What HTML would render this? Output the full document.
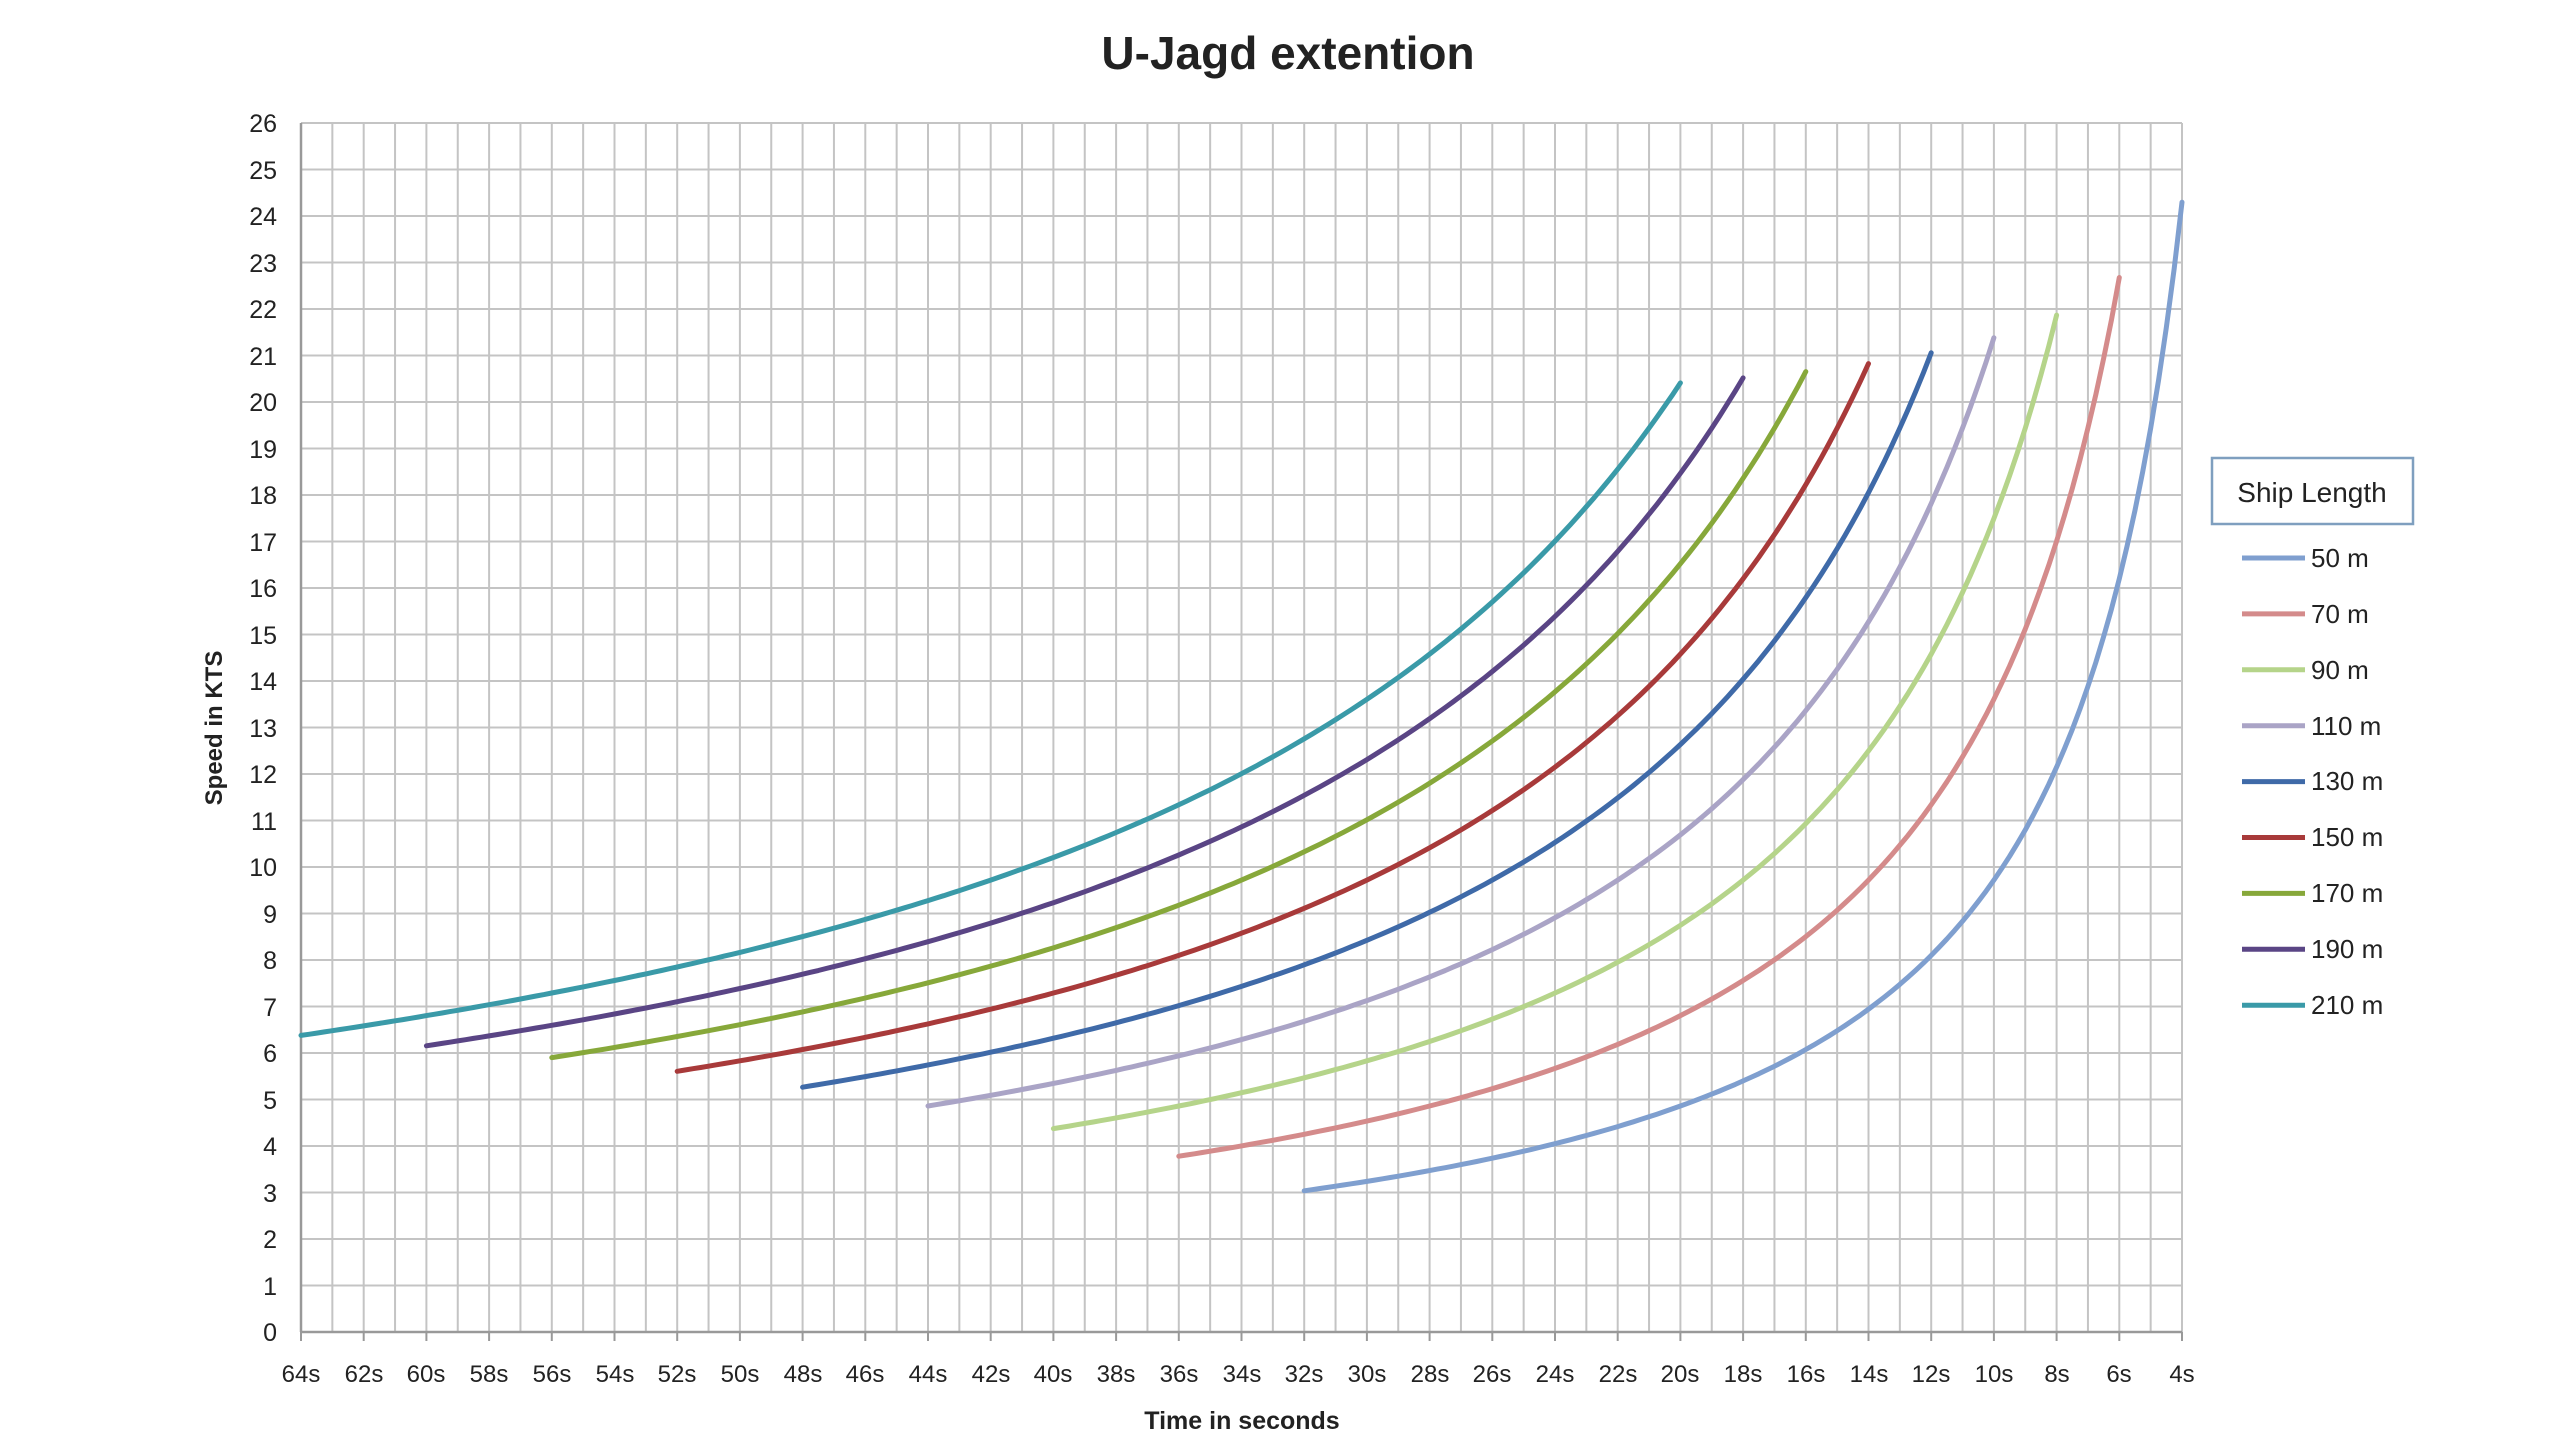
<!DOCTYPE html>
<html><head><meta charset="utf-8"><style>
html,body{margin:0;padding:0;background:#fff;}
svg{display:block;}
text{font-family:"Liberation Sans",sans-serif;fill:#222;}
</style></head><body>
<svg id="s" width="2560" height="1440" viewBox="0 0 2560 1440" xmlns="http://www.w3.org/2000/svg">
<g id="grid"></g>
<g id="curves" fill="none" stroke-width="5" stroke-linejoin="round" stroke-linecap="round"></g>
<text x="1288" y="69" font-size="46" font-weight="bold" text-anchor="middle" fill="#111">U-Jagd extention</text>
<g font-size="25" text-anchor="end">
<text x="277" y="132">26</text><text x="277" y="179">25</text><text x="277" y="225">24</text><text x="277" y="272">23</text><text x="277" y="318">22</text><text x="277" y="365">21</text><text x="277" y="411">20</text><text x="277" y="458">19</text><text x="277" y="504">18</text><text x="277" y="551">17</text><text x="277" y="597">16</text><text x="277" y="644">15</text><text x="277" y="690">14</text><text x="277" y="737">13</text><text x="277" y="783">12</text><text x="277" y="830">11</text><text x="277" y="876">10</text><text x="277" y="923">9</text><text x="277" y="969">8</text><text x="277" y="1016">7</text><text x="277" y="1062">6</text><text x="277" y="1109">5</text><text x="277" y="1155">4</text><text x="277" y="1202">3</text><text x="277" y="1248">2</text><text x="277" y="1295">1</text><text x="277" y="1341">0</text>
</g>
<g font-size="24" text-anchor="middle">
<text x="301" y="1382">64s</text><text x="364" y="1382">62s</text><text x="426" y="1382">60s</text><text x="489" y="1382">58s</text><text x="552" y="1382">56s</text><text x="615" y="1382">54s</text><text x="677" y="1382">52s</text><text x="740" y="1382">50s</text><text x="803" y="1382">48s</text><text x="865" y="1382">46s</text><text x="928" y="1382">44s</text><text x="991" y="1382">42s</text><text x="1053" y="1382">40s</text><text x="1116" y="1382">38s</text><text x="1179" y="1382">36s</text><text x="1242" y="1382">34s</text><text x="1304" y="1382">32s</text><text x="1367" y="1382">30s</text><text x="1430" y="1382">28s</text><text x="1492" y="1382">26s</text><text x="1555" y="1382">24s</text><text x="1618" y="1382">22s</text><text x="1680" y="1382">20s</text><text x="1743" y="1382">18s</text><text x="1806" y="1382">16s</text><text x="1869" y="1382">14s</text><text x="1931" y="1382">12s</text><text x="1994" y="1382">10s</text><text x="2057" y="1382">8s</text><text x="2119" y="1382">6s</text><text x="2182" y="1382">4s</text>
</g>
<text x="1242" y="1429" font-size="25" font-weight="bold" text-anchor="middle">Time in seconds</text>
<text transform="translate(222,728) rotate(-90)" font-size="24" font-weight="bold" text-anchor="middle">Speed in KTS</text>
<rect x="2212" y="458" width="201" height="66" fill="#fff" stroke="#7f9fbf" stroke-width="2.5"/>
<text x="2312" y="502" font-size="28" text-anchor="middle">Ship Length</text>
<g id="leg" stroke-width="5"></g>
<g font-size="26">
<text x="2311" y="567">50 m</text><text x="2311" y="623">70 m</text><text x="2311" y="679">90 m</text><text x="2311" y="735">110 m</text><text x="2311" y="790">130 m</text><text x="2311" y="846">150 m</text><text x="2311" y="902">170 m</text><text x="2311" y="958">190 m</text><text x="2311" y="1014">210 m</text>
</g>
</svg>
<script>
var NS="http://www.w3.org/2000/svg";
function el(p,t,a){var e=document.createElementNS(NS,t);for(var k in a)e.setAttribute(k,a[k]);p.appendChild(e);return e;}
var X0=301,X1=2182,Y0=1332,YT=123;
function X(t){return X0+(64-t)*(X1-X0)/60;}
function Y(v){return Y0-v*(Y0-YT)/26;}
var g=document.getElementById('grid');
for(var t=4;t<=64;t++){el(g,'line',{x1:X(t),x2:X(t),y1:YT,y2:Y0,stroke:'#c4c4c4','stroke-width':2});}
for(var v=0;v<=26;v++){el(g,'line',{x1:X0,x2:X1,y1:Y(v),y2:Y(v),stroke:'#c4c4c4','stroke-width':2});}
for(var t=4;t<=64;t+=2){el(g,'line',{x1:X(t),x2:X(t),y1:Y0,y2:Y0+9,stroke:'#999','stroke-width':2});}
el(g,'line',{x1:X0,x2:X1,y1:Y0,y2:Y0,stroke:'#999','stroke-width':2.5});
el(g,'line',{x1:X0,x2:X0,y1:YT,y2:Y0,stroke:'#999','stroke-width':2.5});
var cols=['#7f9fcf','#d48b8b','#b5d48a','#aaa4c6','#3f6aa8','#a83a3a','#87a83a','#5a4585','#3a9aa8'];
var c=document.getElementById('curves'),lg=document.getElementById('leg');
for(var i=0;i<9;i++){
 var L=50+20*i,t0=32+4*i,t1=4+2*i,pts=[];
 for(var t=t0;t>=t1-1e-9;t-=0.25){pts.push(X(t).toFixed(1)+','+Y(L*1.9438/t).toFixed(1));}
 el(c,'polyline',{points:pts.join(' '),stroke:cols[i]});
 var ly=558+55.9*i;
 el(lg,'line',{x1:2242,x2:2305,y1:ly,y2:ly,stroke:cols[i]});
}
</script>
</body></html>
